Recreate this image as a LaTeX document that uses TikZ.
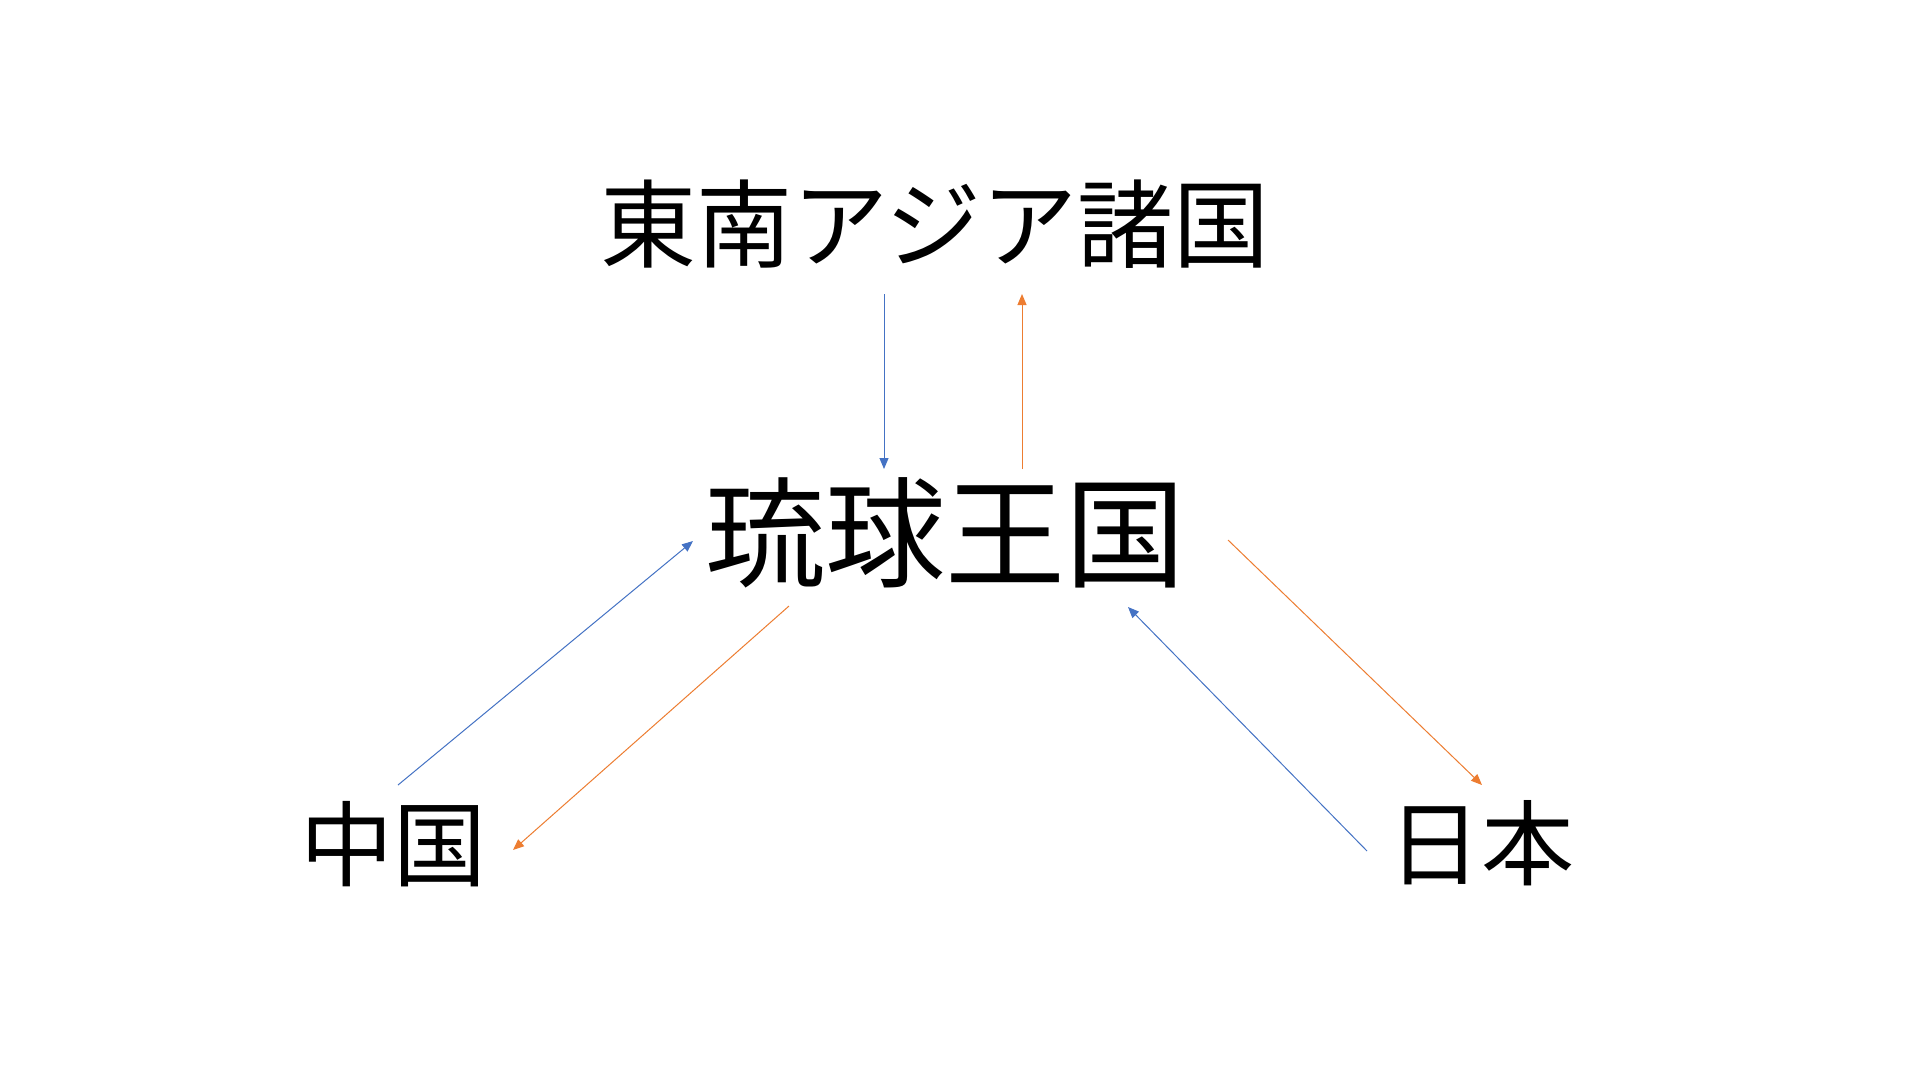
\documentclass[tikz,border=0pt]{standalone}
\usepackage{fontspec}
\newfontfamily\jpfont{Noto Sans CJK JP}
\usetikzlibrary{arrows.meta}
\definecolor{arrblue}{HTML}{4472C4}
\definecolor{arrorange}{HTML}{ED7D31}
\tikzset{
  label96/.style={inner sep=0pt, anchor=center, font=\jpfont\fontsize{96pt}{110pt}\selectfont},
  label92/.style={inner sep=0pt, anchor=center, font=\jpfont\fontsize{93pt}{110pt}\selectfont},
  label120/.style={inner sep=0pt, anchor=center, font=\jpfont\fontsize{120pt}{140pt}\selectfont},
  bluearrow/.style={draw=arrblue, line width=1pt, -{Triangle[length=11pt,width=9pt]}},
  orangearrow/.style={draw=arrorange, line width=1pt, -{Triangle[length=11pt,width=9pt]}}
}
\begin{document}
\begin{tikzpicture}[x=1pt,y=-1pt]
\useasboundingbox (0,0) rectangle (1920,1080);
\fill[white] (0,0) rectangle (1920,1080);

\node[label96] (sea) at (935,224) {東南アジア諸国};
\node[label120] (ryukyu) at (945,533) {琉球王国};
\node[label92] (china) at (393,844) {中国};
\node[label92] (japan) at (1481,843) {日本};

% connector end points
\coordinate (seaOutB) at (884,294);
\coordinate (ryuInB) at (884,469);
\coordinate (ryuOutO) at (1022,469);
\coordinate (seaInO) at (1022,294);
\coordinate (chinaOutB) at (398,785);
\coordinate (ryuInBL) at (693,541);
\coordinate (ryuOutOL) at (789,606);
\coordinate (chinaInO) at (513,850);
\coordinate (ryuOutOR) at (1228,540);
\coordinate (japanInO) at (1482,785);
\coordinate (japanOutB) at (1367,851);
\coordinate (ryuInBR) at (1128,607);

\draw[bluearrow] (seaOutB) -- (ryuInB);
\draw[orangearrow] (ryuOutO) -- (seaInO);
\draw[bluearrow] (chinaOutB) -- (ryuInBL);
\draw[orangearrow] (ryuOutOL) -- (chinaInO);
\draw[orangearrow] (ryuOutOR) -- (japanInO);
\draw[bluearrow] (japanOutB) -- (ryuInBR);
\end{tikzpicture}
\end{document}
